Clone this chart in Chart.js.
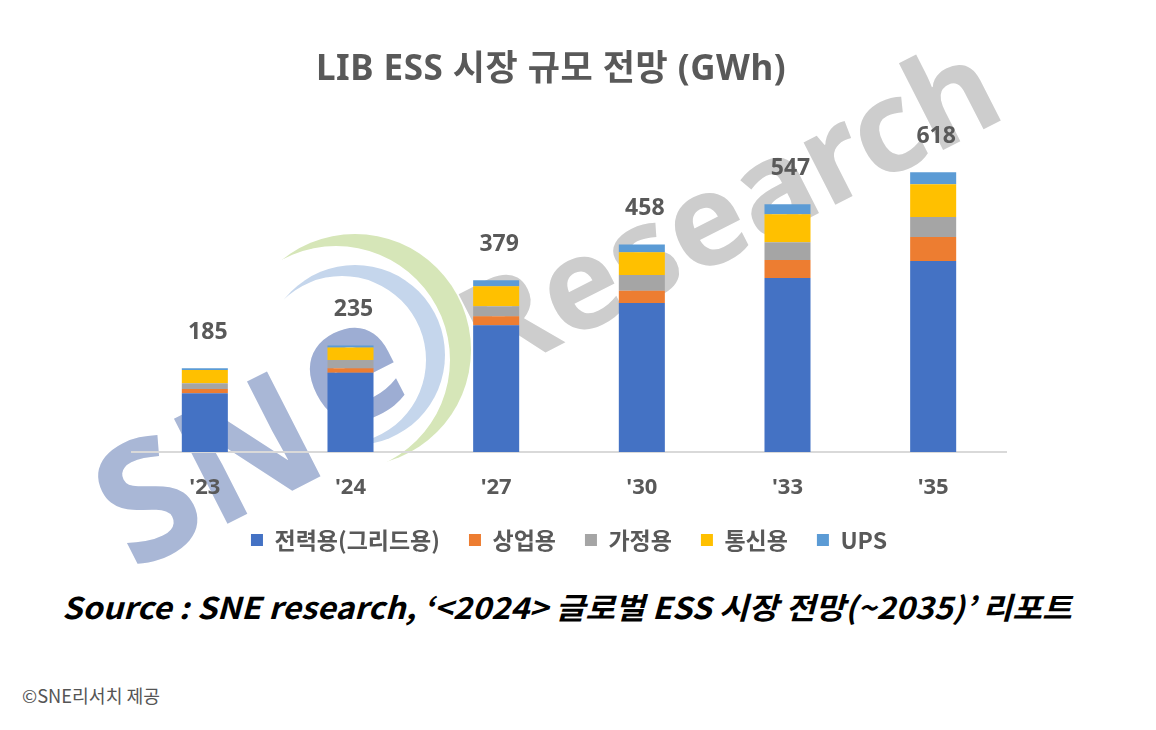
<!DOCTYPE html>
<html>
<head>
<meta charset="utf-8">
<script src="https://cdn.jsdelivr.net/npm/chart.js@4.4.1/dist/chart.umd.min.js"></script>
<style>
  body { margin: 0; background: #fff; width: 1156px; height: 730px; overflow: hidden; position: relative; }
  #wrap { position: absolute; left: 0; top: 0; width: 1156px; height: 570px; }
  .title { position: absolute; left: 0; width: 1102px; top: 46px; text-align: center; letter-spacing: 0.5px;
    font: bold 35px "Noto Sans", "Noto Sans CJK KR", sans-serif; color: #595959; line-height: 42px; }
  .source { position: absolute; left: 62px; top: 584px; white-space: nowrap;
    font: italic bold 30px "Noto Sans CJK KR", sans-serif; color: #000; line-height: 44px;
    transform-origin: left center; }
  .credit { position: absolute; left: 22px; top: 682px; white-space: nowrap;
    font: 18px "Noto Sans CJK KR", sans-serif; color: #555; line-height: 26px; }
</style>
</head>
<body>
<div id="wrap"><canvas id="essChart"></canvas></div>
<div class="title">LIB ESS 시장 규모 전망 (GWh)</div>
<div class="source" id="src">Source : SNE research, ‘&lt;2024&gt; 글로벌 ESS 시장 전망(~2035)’ 리포트</div>
<div class="credit" id="cred">©SNE리서치 제공</div>
<script>
// values (GWh)
var years = ["'23", "'24", "'27", "'30", "'33", "'35"];
var grid = [130, 175, 280, 329, 384, 422];
var commercial = [9, 10, 20, 27, 40, 53];
var residential = [13, 18, 22, 35, 39, 44];
var telecom = [29, 28, 44, 50, 62, 72];
var ups = [4, 4, 13, 17, 22, 27];
var totals = [185, 235, 379, 458, 547, 618];

// squeeze the source lines to the width they have in the picture
var src = document.getElementById('src');
src.style.transform = 'scaleX(' + (1010 / src.offsetWidth) + ')';
var cred = document.getElementById('cred');
cred.style.transformOrigin = 'left center';
cred.style.transform = 'scaleX(' + (138 / cred.offsetWidth) + ')';

// crescent = outer disc minus inner disc
function crescent(c, w, h, outer, inner, color) {
    c.save();
    c.beginPath();
    c.rect(0, 0, w, h);
    c.arc(inner[0], inner[1], inner[2], 0, Math.PI * 2, true);
    c.clip('evenodd');
    c.beginPath();
    c.arc(outer[0], outer[1], outer[2], 0, Math.PI * 2);
    c.fillStyle = color;
    c.fill();
    c.restore();
}

// SNE Research logo watermark, under everything else
var watermark = {
    id: 'watermark',
    beforeDraw: function (chart) {
        var c = chart.ctx;
        crescent(c, chart.width, chart.height, [355, 350, 116], [336, 360, 114], '#d6e6b8');
        crescent(c, chart.width, chart.height, [355, 355, 90], [342, 360, 84], '#c5d6ec');

        c.save();
        c.fillStyle = '#a9b7d6';
        c.font = 'bold 165px "Noto Sans", sans-serif';
        c.translate(112, 530);
        c.rotate(-27 * Math.PI / 180);
        c.fillText('SN', 0, 0);
        c.restore();

        c.save();
        c.fillStyle = '#9dadd3';
        c.font = 'bold 165px "Noto Sans", sans-serif';
        c.translate(360, 388);
        c.rotate(-27 * Math.PI / 180);
        c.textAlign = 'center';
        c.textBaseline = 'middle';
        c.fillText('e', 0, -16);
        c.restore();

        c.save();
        c.translate(474, 348);
        c.rotate(-27 * Math.PI / 180);
        c.font = 'bold 128px "Noto Sans", sans-serif';
        c.fillStyle = '#cdcdcd';
        c.fillText('Research', 0, 0);
        c.restore();
    }
};

var totalLabels = {
    id: 'totalLabels',
    afterDatasetsDraw: function (chart) {
        var c = chart.ctx;
        var meta = chart.getDatasetMeta(chart.data.datasets.length - 1);
        c.save();
        c.font = 'bold 23px "Noto Sans", sans-serif';
        c.fillStyle = '#595959';
        c.textAlign = 'center';
        c.textBaseline = 'middle';
        meta.data.forEach(function (bar, i) {
            c.fillText(totals[i], bar.x + 3, bar.y - 36);
        });
        c.restore();
    }
};

var ctx = document.getElementById('essChart');

var myChart = new Chart(ctx, {
    type: 'bar',
    data: {
        labels: years,
        datasets: [{
            label: '전력용(그리드용)',
            data: grid,
            backgroundColor: '#4472c4'
        }, {
            label: '상업용',
            data: commercial,
            backgroundColor: '#ed7d31'
        }, {
            label: '가정용',
            data: residential,
            backgroundColor: '#a5a5a5'
        }, {
            label: '통신용',
            data: telecom,
            backgroundColor: '#ffc000'
        }, {
            label: 'UPS',
            data: ups,
            backgroundColor: '#5b9bd5'
        }]
    },
    options: {
        responsive: true,
        maintainAspectRatio: false,
        animation: false,
        datasets: {
            bar: { categoryPercentage: 1, barPercentage: 0.316, borderWidth: 0 }
        },
        layout: { padding: { left: 132, right: 150, top: 135, bottom: 8.5 } },
        scales: {
            x: {
                stacked: true,
                grid: { display: false, drawTicks: false },
                border: { display: true, color: '#d9d9d9', width: 2 },
                ticks: {
                    padding: 23,
                    color: '#595959',
                    font: { family: '"Noto Sans", sans-serif', size: 22, weight: 'bold' }
                },
                afterFit: function (scale) { scale.height = 47.5; }
            },
            y: {
                stacked: true,
                display: false,
                min: 0,
                max: 700
            }
        },
        plugins: {
            legend: {
                position: 'bottom',
                labels: {
                    boxWidth: 12,
                    boxHeight: 12,
                    padding: 29,
                    color: '#595959',
                    font: { family: '"Noto Sans CJK KR", sans-serif', size: 23, weight: 'bold' }
                }
            },
            tooltip: { enabled: false },
            title: { display: false }
        }
    },
    plugins: [watermark, totalLabels]
});
</script>
</body>
</html>
